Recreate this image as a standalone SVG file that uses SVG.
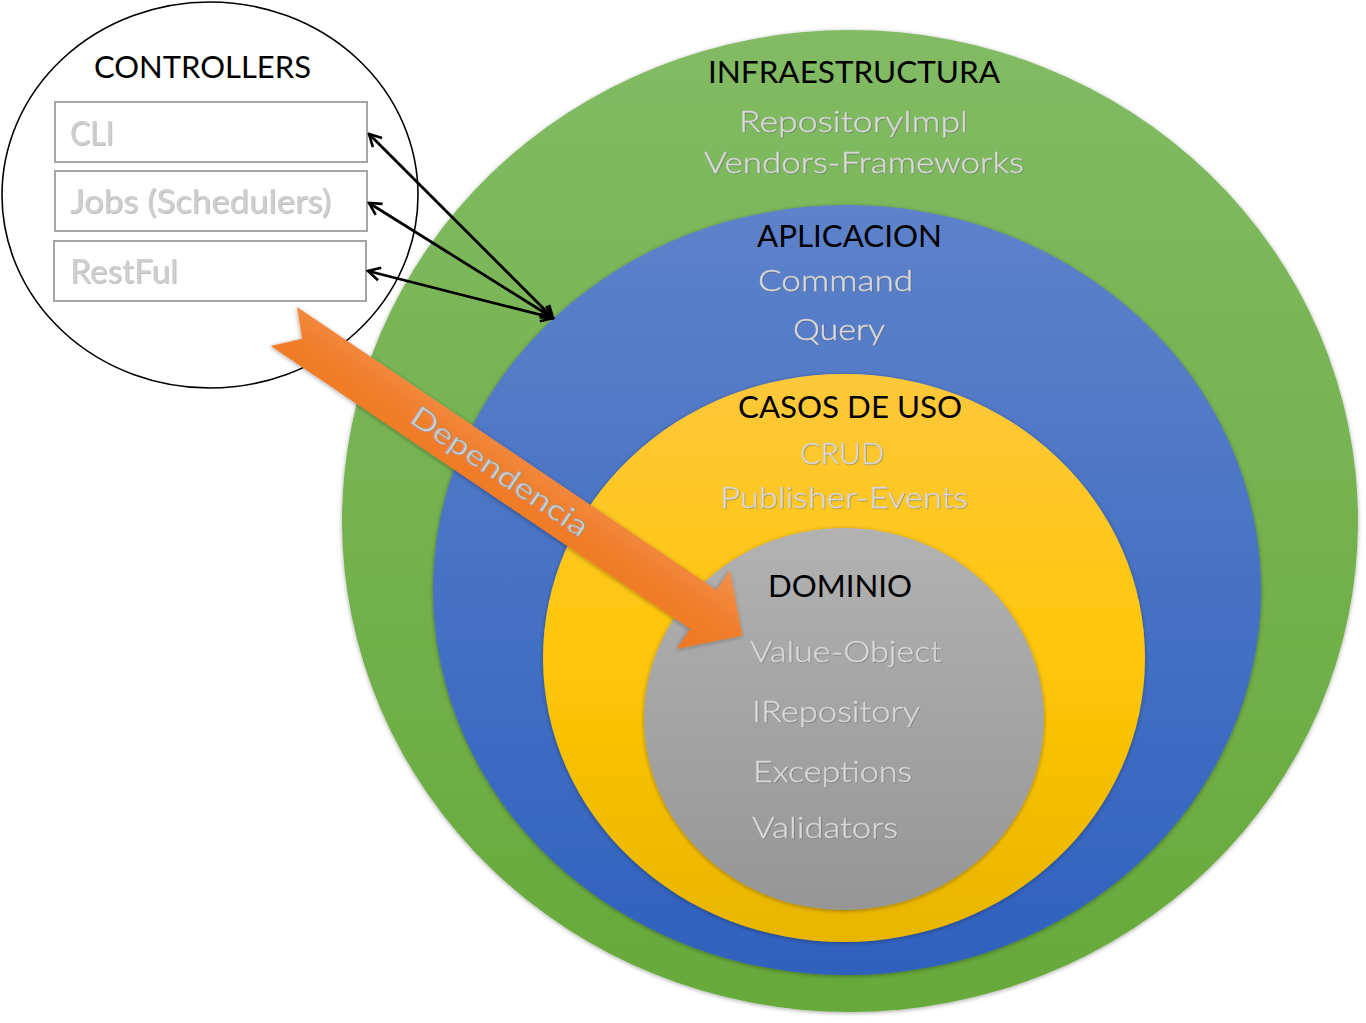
<svg xmlns="http://www.w3.org/2000/svg" width="1366" height="1023" viewBox="0 0 1366 1023">
<defs>
<linearGradient id="gGreen" x1="0" y1="0" x2="0" y2="1"><stop offset="0" stop-color="#82bb64"/><stop offset="1" stop-color="#67a93a"/></linearGradient>
<linearGradient id="gBlue" x1="0" y1="0" x2="0" y2="1"><stop offset="0" stop-color="#5e82ca"/><stop offset="1" stop-color="#2f61be"/></linearGradient>
<linearGradient id="gYellow" x1="0" y1="0" x2="0" y2="1"><stop offset="0" stop-color="#fec83c"/><stop offset="0.5" stop-color="#ffc608"/><stop offset="1" stop-color="#e8b500"/></linearGradient>
<linearGradient id="gGray" x1="0" y1="0" x2="0" y2="1"><stop offset="0" stop-color="#b2b2b2"/><stop offset="1" stop-color="#969696"/></linearGradient>
<linearGradient id="gOrange" x1="0" y1="0" x2="0" y2="1"><stop offset="0" stop-color="#f3914d"/><stop offset="0.5" stop-color="#f17e2c"/><stop offset="1" stop-color="#ee7722"/></linearGradient>
<filter id="shadow" x="-10%" y="-10%" width="120%" height="120%"><feDropShadow dx="0" dy="1" stdDeviation="2" flood-color="#000" flood-opacity="0.35"/></filter>
<filter id="emboss" x="-5%" y="-20%" width="110%" height="140%"><feDropShadow dx="0.7" dy="0.7" stdDeviation="0.4" flood-color="#555" flood-opacity="0.55"/></filter>
<marker id="ah" viewBox="0 0 16 16" refX="14" refY="8" markerWidth="16" markerHeight="16" markerUnits="userSpaceOnUse" orient="auto-start-reverse"><path d="M2,1.5 L14,8 L2,14.5" fill="none" stroke="#000" stroke-width="2.6"/></marker>
</defs>
<style>
.title{font-family:Lato,"Liberation Sans",sans-serif;font-size:31px;fill:#000}
.sub{font-family:Lato,"Liberation Sans",sans-serif;font-size:29px;font-weight:300;fill:#dcdcdc;stroke:#d0d0d0;stroke-width:0.4;filter:url(#emboss)}
.box{fill:#fff;stroke:#a6a6a6;stroke-width:2}
.btxt{font-family:Lato,"Liberation Sans",sans-serif;font-size:33px;fill:#cfcfcf;filter:url(#emboss)}
.conn{stroke:#000;stroke-width:2.8;fill:none;marker-start:url(#ah);marker-end:url(#ah)}
</style>
<rect width="1366" height="1023" fill="#fff"/>
<g id="infraestructura">
<ellipse cx="850" cy="521" rx="508" ry="491" fill="url(#gGreen)" filter="url(#shadow)"/>
<text class="title" x="708" y="83" textLength="292" lengthAdjust="spacingAndGlyphs">INFRAESTRUCTURA</text>
<text class="sub" x="739" y="132" textLength="229" lengthAdjust="spacingAndGlyphs">RepositoryImpl</text>
<text class="sub" x="704" y="173" textLength="320" lengthAdjust="spacingAndGlyphs">Vendors-Frameworks</text>
</g>
<g id="aplicacion">
<ellipse cx="847" cy="590" rx="414" ry="385" fill="url(#gBlue)" filter="url(#shadow)"/>
<text class="title" x="757" y="247" textLength="185" lengthAdjust="spacingAndGlyphs">APLICACION</text>
<text class="sub" x="758" y="291" textLength="155" lengthAdjust="spacingAndGlyphs">Command</text>
<text class="sub" x="793" y="340" textLength="92" lengthAdjust="spacingAndGlyphs">Query</text>
</g>
<g id="casos-de-uso">
<ellipse cx="844" cy="658" rx="301" ry="284" fill="url(#gYellow)" filter="url(#shadow)"/>
<text class="title" x="738" y="418" textLength="224" lengthAdjust="spacingAndGlyphs">CASOS DE USO</text>
<text class="sub" x="800" y="464" textLength="84" lengthAdjust="spacingAndGlyphs">CRUD</text>
<text class="sub" x="720" y="508" textLength="248" lengthAdjust="spacingAndGlyphs">Publisher-Events</text>
</g>
<g id="dominio">
<ellipse cx="844" cy="719" rx="200" ry="191" fill="url(#gGray)" filter="url(#shadow)"/>
<text class="title" x="768" y="597" textLength="144" lengthAdjust="spacingAndGlyphs">DOMINIO</text>
<text class="sub" x="750" y="662" textLength="192" lengthAdjust="spacingAndGlyphs">Value-Object</text>
<text class="sub" x="752" y="722" textLength="168" lengthAdjust="spacingAndGlyphs">IRepository</text>
<text class="sub" x="753" y="782" textLength="159" lengthAdjust="spacingAndGlyphs">Exceptions</text>
<text class="sub" x="752" y="838" textLength="146" lengthAdjust="spacingAndGlyphs">Validators</text>
</g>
<g id="controllers">
<ellipse cx="210" cy="195" rx="208" ry="193" fill="#fff" stroke="#000" stroke-width="1.6"/>
<text class="title" x="94" y="78" textLength="217" lengthAdjust="spacingAndGlyphs">CONTROLLERS</text>
<g id="cli"><rect class="box" x="55" y="102" width="312" height="60"/><text class="btxt" x="70" y="145" textLength="44" lengthAdjust="spacingAndGlyphs">CLI</text></g>
<g id="jobs"><rect class="box" x="55" y="171" width="312" height="60"/><text class="btxt" x="70" y="213" textLength="261" lengthAdjust="spacingAndGlyphs">Jobs (Schedulers)</text></g>
<g id="restful"><rect class="box" x="54" y="241" width="312" height="60"/><text class="btxt" x="70" y="283" textLength="108" lengthAdjust="spacingAndGlyphs">RestFul</text></g>
</g>
<g id="connectors">
<line class="conn" x1="553" y1="318" x2="369" y2="134"/>
<line class="conn" x1="553" y1="318" x2="369" y2="203"/>
<line class="conn" x1="553" y1="318" x2="368" y2="271"/>
</g>
<g id="dependencia" transform="translate(297,307) rotate(34)">
<polygon points="0,0 506,0 506,-24 553,23.5 506,71 506,47 0,47 22,23.5" fill="url(#gOrange)" filter="url(#shadow)"/>
<text x="260" y="33" text-anchor="middle" font-family="Lato,'Liberation Sans',sans-serif" font-size="29" fill="#cfcfcf" stroke="#9a9a9a" stroke-width="0.6" textLength="208" lengthAdjust="spacingAndGlyphs">Dependencia</text>
</g>
</svg>
